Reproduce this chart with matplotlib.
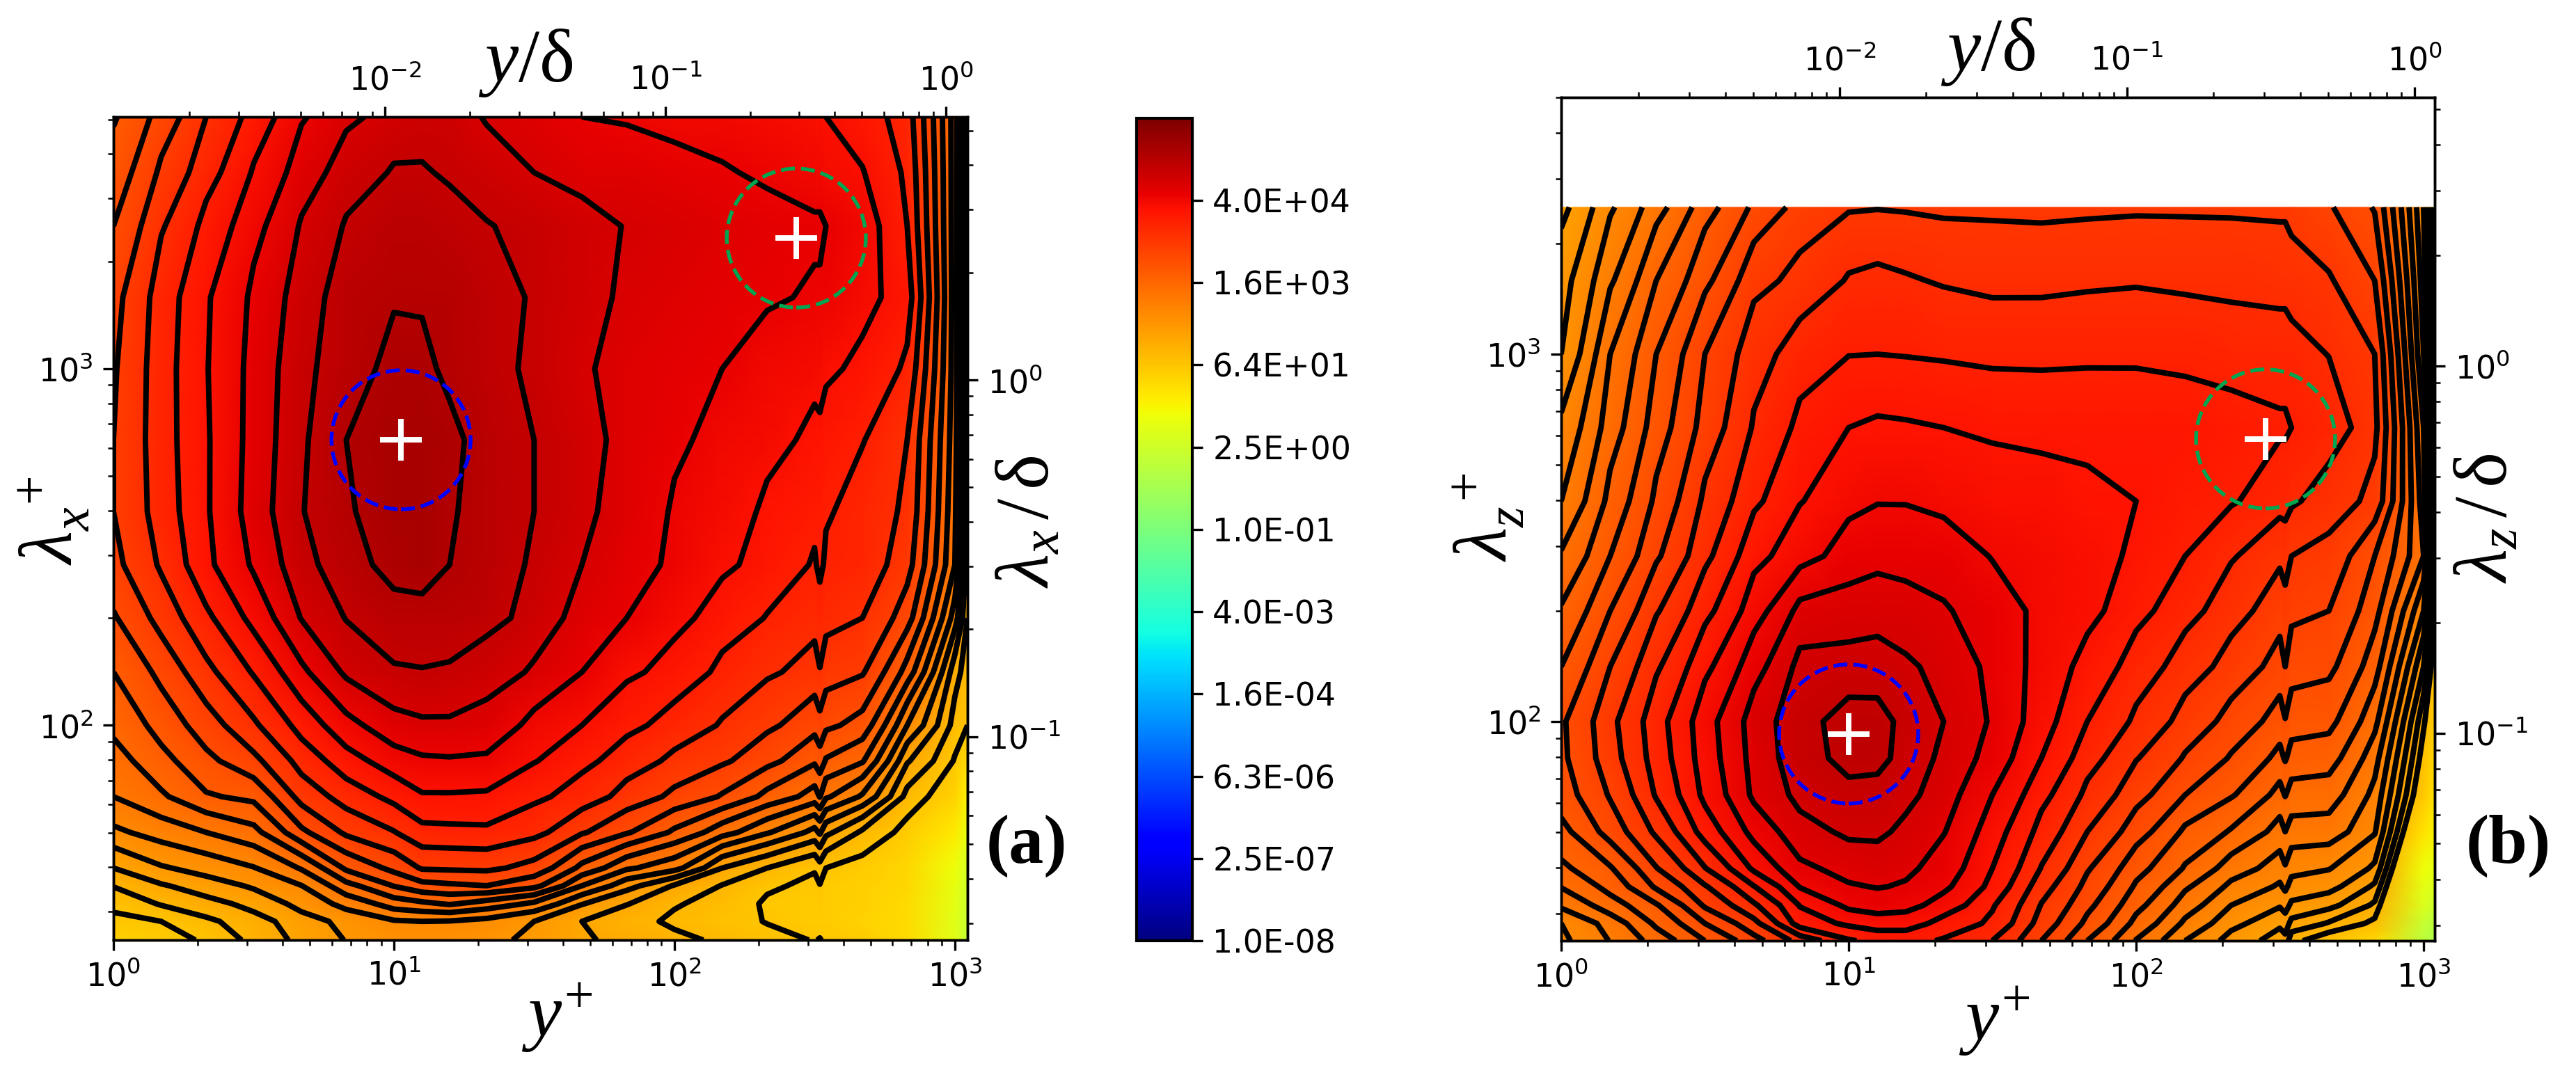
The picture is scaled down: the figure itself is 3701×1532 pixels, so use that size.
import numpy as np
import matplotlib
matplotlib.use('Agg')
import matplotlib.pyplot as plt
from matplotlib.colors import LogNorm
from matplotlib.cm import ScalarMappable

plt.rcParams['mathtext.fontset'] = 'custom'
plt.rcParams['mathtext.rm'] = 'Liberation Serif'
plt.rcParams['mathtext.it'] = 'Liberation Serif:italic'

W, H = 3701, 1532
RE_TAU = 930

# wall distance columns and wavelength rows
y_plus = [1, 1.48, 2.14, 3.16, 4.68, 6.76, 10, 12.6, 15.8, 21.4, 31.6, 46.8, 67.6, 100, 148, 214, 316, 330, 347, 468, 676, 1000, 1109]
lam_x = [25, 28.2, 31.6, 35.5, 39.8, 50.1, 63.1, 79.4, 100, 141, 200, 282, 398, 631, 1000, 1585, 2512, 3548, 5082]
lam_z = [25.3, 28.2, 31.6, 35.5, 39.8, 50.1, 63.1, 79.4, 100, 141, 200, 282, 398, 631, 1000, 1585, 2512]

# field in units of contour lines counted on the picture (one row per wavelength)
level_a = [
    [-0.6, -0.4, 0.15, 1.35, 2.3, 3.05, 3.4, 3.5, 3.5, 3.2, 2.8, 2.1, 1.75, 1.25, 0.8, 0.3, -0.05, 0.05, -0.15, -0.5, -1.4, -5, -7],
    [-0.3, 0, 0.8, 1.6, 2.6, 3.3, 3.9, 4, 3.95, 3.7, 3, 2, 1.35, 0.8, 0.35, -0.05, -0.45, -0.4, -0.55, -0.85, -1.5, -4.8, -6.8],
    [0.3, 1.1, 1.65, 2.35, 3.35, 4.35, 5.5, 5.8, 6.1, 5.57, 4.8, 3.05, 2.05, 1.1, 0.55, -0.15, -0.35, -0.3, -0.45, -0.75, -1.4, -4.6, -6.6],
    [1.05, 1.9, 2.55, 3.15, 3.98, 5.7, 7.05, 7.7, 7.85, 8, 7.3, 5, 3.35, 1.9, 0.95, 0.15, -0.25, -0.05, -0.35, -0.65, -1.3, -4.4, -6.2],
    [2, 2.9, 3.4, 3.95, 5.1, 7.2, 8.3, 9.1, 9.15, 9.2, 8.65, 6.7, 5.15, 4.35, 2, 1, 0.1, 0.6, 0, -0.4, -1.1, -4, -5.8],
    [3.8, 4.45, 5, 5.7, 7.8, 9.2, 9.95, 10.7, 10.75, 10.8, 10.3, 9.1, 8.1, 6.8, 5.4, 4.1, 2.65, 3.15, 2.25, 0.8, -0.4, -2.5, -4.5],
    [5, 5.85, 6.9, 7.25, 9.4, 10.45, 11.3, 11.9, 11.9, 11.85, 11.2, 10.55, 9.6, 8.75, 7.9, 6.7, 5.55, 6.05, 5.15, 3.85, 0.65, -1, -3],
    [5.6, 6.7, 7.75, 8.75, 10.4, 11.6, 12.55, 12.85, 12.9, 12.85, 12.05, 11.25, 10.5, 9.75, 9.15, 8.3, 7.15, 7.55, 6.9, 6.1, 2.1, -0.1, -1.5],
    [6.25, 7.4, 8.55, 9.85, 11.4, 12.7, 13.65, 13.85, 13.85, 13.6, 12.7, 12, 11.25, 10.6, 9.9, 9.2, 8.35, 8.7, 8.2, 7.64, 4, 0.6, 0],
    [7, 8.3, 9.75, 11.1, 12.8, 14.2, 14.9, 14.95, 14.9, 14.5, 13.85, 13, 12.2, 11.6, 10.75, 10.15, 9.6, 9.95, 9.5, 9.1, 6.6, 1.4, 0.5],
    [7.9, 9.4, 10.8, 12.35, 14.05, 15.05, 15.6, 15.65, 15.5, 15.3, 14.65, 13.5, 13, 12.3, 11.5, 10.95, 10.35, 10.65, 10.3, 10, 8.45, 3.5, 1],
    [8.75, 10.15, 11.8, 13.15, 14.7, 15.6, 16.4, 16.5, 16, 15.5, 14.85, 14, 13.4, 12.8, 12.2, 11.6, 10.9, 11.2, 10.85, 10.6, 9.4, 5, 1.5],
    [9, 10.5, 11.9, 13.5, 14.95, 15.9, 16.5, 16.5, 16.1, 15.6, 15, 14.2, 13.55, 12.9, 12.4, 11.85, 11.25, 11.4, 11.1, 10.6, 9.8, 5.2, 1.8],
    [9, 10.6, 11.9, 13.4, 14.85, 16, 16.5, 16.5, 16.2, 15.65, 15, 14.3, 13.7, 13.15, 12.7, 12.25, 11.8, 11.85, 11.65, 11.05, 10, 5.4, 2],
    [8.9, 10.6, 11.95, 13.35, 14.75, 15.6, 16.3, 16.2, 15.8, 15.4, 14.75, 14.1, 13.7, 13.35, 13, 12.65, 12.25, 12.3, 12.15, 11.8, 10.8, 5.5, 2],
    [8.7, 10.5, 11.9, 13.2, 14.5, 15.55, 15.9, 15.9, 15.75, 15.35, 14.9, 14.35, 13.8, 13.55, 13.35, 13.1, 12.9, 12.9, 12.75, 12.3, 11.5, 5.5, 2],
    [8, 9.9, 11.3, 12.7, 14.1, 15.1, 15.5, 15.6, 15.4, 15.05, 14.7, 14.3, 13.95, 13.8, 13.6, 13.4, 13.15, 13.15, 13, 12.5, 11, 5.5, 2],
    [7.4, 9.2, 10.6, 12.1, 13.5, 14.5, 15.1, 15.1, 14.85, 14.5, 14, 13.7, 13.5, 13.3, 13.1, 12.8, 12.5, 12.5, 12.4, 12.05, 10.8, 5.5, 2],
    [6.9, 8.4, 10, 11.4, 12.9, 13.8, 14.4, 14.5, 14.5, 13.9, 13.5, 13, 12.9, 12.7, 12.5, 12.3, 12.1, 12.1, 12, 11.5, 10.5, 5.5, 2],
]

level_b = [
    [3.8, 5.05, 6.45, 8, 9.65, 11.4, 12.9, 13.3, 13.3, 12.9, 12, 10, 8, 5.95, 4, 2.6, 1.5, 1.7, 0.3, -0.8, -2.5, -11, -12.5],
    [4, 5.45, 7.2, 9, 10.7, 13.5, 14.2, 14.5, 14.5, 13.6, 12.8, 10.55, 8.75, 6.7, 4.8, 3.3, 2.2, 2.5, 1.7, 0.9, -0.3, -10, -11.5],
    [5.2, 6.55, 7.9, 10.15, 11.85, 14.05, 15.25, 15.45, 15.3, 14.6, 13.1, 10.95, 9.25, 7.3, 5.5, 4, 3.1, 3.4, 2.8, 2.3, 0.8, -8, -9.5],
    [6.05, 7.36, 9.15, 10.9, 12.95, 15.05, 15.9, 16.05, 15.9, 15.2, 13.7, 11.4, 9.7, 7.85, 6.15, 4.75, 3.85, 4.2, 3.65, 3.35, 1.8, -7, -8],
    [6.8, 7.9, 9.95, 11.95, 14.2, 15.8, 16.35, 16.5, 16.2, 15.55, 14, 11.95, 10.1, 8.35, 6.9, 5.5, 4.5, 4.9, 4.3, 4.05, 2.8, -6, -7],
    [7.7, 9.45, 11.2, 13.45, 15.35, 16.65, 17.2, 17.2, 16.75, 16.05, 14.45, 12.65, 11, 9.45, 7.8, 6.9, 5.6, 6, 5.6, 5.55, 4.1, -3.5, -5],
    [8.55, 10.1, 12.1, 14.25, 16.2, 17.3, 17.75, 17.65, 17.3, 16.4, 15, 13.3, 11.75, 10.35, 9, 8.1, 6.65, 7.05, 6.6, 6.5, 4.7, -1.5, -4],
    [8.8, 10.6, 12.45, 14.5, 16.35, 17.65, 18.3, 18.3, 17.6, 16.75, 15.55, 14, 12.4, 11.05, 9.9, 8.9, 7.7, 8.1, 7.6, 7.45, 5.4, -0.6, -3],
    [8.85, 10.75, 12.6, 14.6, 16.45, 17.7, 18.4, 18.35, 17.7, 17, 15.85, 14.4, 13, 11.8, 10.6, 9.65, 8.55, 8.95, 8.45, 8.3, 6.3, 0.2, -2],
    [8, 10, 11.85, 13.75, 15.6, 17.3, 17.4, 17.45, 17.15, 16.7, 15.7, 14.6, 13.65, 12.55, 11.5, 10.6, 9.6, 10, 9.45, 9.25, 7.45, 2, -1.5],
    [7.1, 9, 10.9, 12.7, 14.55, 16.3, 16.4, 16.55, 16.4, 16.1, 15.45, 14.75, 14.3, 13.3, 12.35, 11.4, 10.4, 10.7, 10.25, 10, 8.35, 4, -0.5],
    [6.1, 8, 9.85, 11.75, 13.7, 14.6, 15.5, 15.7, 15.6, 15.5, 14.95, 14.7, 14.4, 13.8, 13, 12.1, 11.2, 11.4, 11, 10.7, 9, 6, 0.5],
    [5, 7.3, 9.2, 11.2, 12.8, 13.95, 14.7, 14.95, 14.95, 14.75, 14.45, 14.3, 14.15, 14, 13.55, 13.1, 12.4, 12.4, 12.15, 11.5, 10.7, 5.5, 0],
    [4.2, 6.5, 8.5, 10.4, 12.1, 13.25, 14, 14.15, 14.1, 14, 13.85, 13.8, 13.8, 13.68, 13.57, 13.35, 13.15, 13.15, 13, 12.6, 11.25, 5, 0],
    [3, 6, 8, 10, 11.6, 12.5, 12.97, 13, 12.95, 12.87, 12.74, 12.72, 12.77, 12.8, 12.69, 12.58, 12.46, 12.46, 12.35, 11.97, 11, 4, -0.5],
    [2.6, 4.85, 7, 8.75, 10.7, 11.3, 12.1, 12.25, 12.1, 11.9, 11.72, 11.73, 11.83, 11.9, 11.8, 11.7, 11.64, 11.64, 11.5, 11.1, 10, 3.5, -1],
    [1.7, 3.85, 5.6, 7.6, 9.2, 10.4, 10.9, 10.95, 10.9, 10.8, 10.8, 10.75, 10.8, 10.85, 10.85, 10.85, 10.8, 10.8, 10.6, 10.1, 8.9, 3, -1],
]

# log10 of the energy on each lowest contour, and the gap between contours
base_a, step_a = 1.81, 0.222
base_b, step_b = 2.0, 0.174
levels_a = list(range(0, 17))
levels_b = list(range(0, 19))

# pixel boxes of the axes (left, top, right, bottom)
box_a = (163, 168, 1390, 1351)
box_b = (2243, 140, 3498, 1352)
box_c = (1633, 170, 1713, 1352)
xlim_a = (1, 1109)
ylim_a = (25, 5082)
xlim_b = (1, 1093)
ylim_b = (25.3, 5000)

# marked peaks
blue_a, green_a = (10.6, 632), (272, 2325)
blue_b, green_b = (10, 92.5), (282, 588)

cbar_ticks = [1e-8, 2.5e-7, 6.3e-6, 1.6e-4, 4e-3, 1e-1, 2.5, 64, 1.6e3, 4e4]
cbar_labels = ['1.0E-08', '2.5E-07', '6.3E-06', '1.6E-04', '4.0E-03', '1.0E-01', '2.5E+00', '6.4E+01', '1.6E+03', '4.0E+04']


def add_box(fig, box):
    l, t, r, b = box
    return fig.add_axes([l / W, 1 - b / H, (r - l) / W, (b - t) / H])


def fig_text(fig, px, py, s, **kw):
    fig.text(px / W, 1 - py / H, s, ha='center', va='center', **kw)


def draw_panel(fig, box, level, lam, base, step, levels, xlim, ylim, blue, green):
    ax = add_box(fig, box)
    X, Y = np.meshgrid(y_plus, lam)
    L = np.array(level)
    ax.pcolormesh(X, Y, base + step * L, cmap='jet', vmin=-8, vmax=6, shading='gouraud', rasterized=True)
    ax.contour(X, Y, L, levels=levels, colors='k', linewidths=1.9, linestyles='solid')
    ax.set_xscale('log')
    ax.set_yscale('log')
    ax.set_xlim(xlim)
    ax.set_ylim(ylim)
    ax.scatter(*blue, s=2300, facecolors='none', edgecolors='#0000ff', linestyles='--', linewidths=1.3, zorder=5)
    ax.scatter(*green, s=2300, facecolors='none', edgecolors='#00a651', linestyles='--', linewidths=1.3, zorder=5)
    ax.scatter(*blue, s=210, marker='+', c='w', linewidths=1.9, zorder=6)
    ax.scatter(*green, s=210, marker='+', c='w', linewidths=1.9, zorder=6)
    ax.tick_params(which='both', labelsize=11)
    top = ax.twiny()
    top.set_xscale('log')
    top.set_xlim(xlim[0] / RE_TAU, xlim[1] / RE_TAU)
    top.tick_params(which='both', labelsize=11)
    top.xaxis.set_major_locator(matplotlib.ticker.LogLocator(base=10, numticks=10))
    right = ax.twinx()
    right.set_yscale('log')
    right.set_ylim(ylim[0] / RE_TAU, ylim[1] / RE_TAU)
    right.tick_params(which='both', labelsize=11)
    return ax


fig = plt.figure(figsize=(W / 300, H / 300), dpi=300)
draw_panel(fig, box_a, level_a, lam_x, base_a, step_a, levels_a, xlim_a, ylim_a, blue_a, green_a)
draw_panel(fig, box_b, level_b, lam_z, base_b, step_b, levels_b, xlim_b, ylim_b, blue_b, green_b)

cax = add_box(fig, box_c)
sm = ScalarMappable(norm=LogNorm(1e-8, 1e6), cmap='jet')
cb = fig.colorbar(sm, cax=cax)
cb.set_ticks(cbar_ticks)
cb.set_ticklabels(cbar_labels)
cb.minorticks_off()
cb.outline.set_linewidth(1.0)
cax.tick_params(labelsize=11)

label = dict(fontsize=26, family='Liberation Serif')
fig_text(fig, 800, 1463, r'$y^{+}$', **label)
fig_text(fig, 755, 90, r'$y/\mathrm{\delta}$', **label)
fig_text(fig, 78, 748, r'$\lambda_{x}^{\ +}$', rotation=90, **label)
fig_text(fig, 1480, 750, r'$\lambda_{x}\,/\,\mathrm{\delta}$', rotation=90, **label)
fig_text(fig, 2865, 1468, r'$y^{+}$', **label)
fig_text(fig, 2856, 75, r'$y/\mathrm{\delta}$', **label)
fig_text(fig, 2139, 743, r'$\lambda_{z}^{\ +}$', rotation=90, **label)
fig_text(fig, 3575, 745, r'$\lambda_{z}\,/\,\mathrm{\delta}$', rotation=90, **label)
fig_text(fig, 1475, 1216, '(a)', fontsize=24, family='Liberation Serif', weight='bold')
fig_text(fig, 3604, 1216, '(b)', fontsize=24, family='Liberation Serif', weight='bold')

fig.savefig('out.png', dpi=300)
